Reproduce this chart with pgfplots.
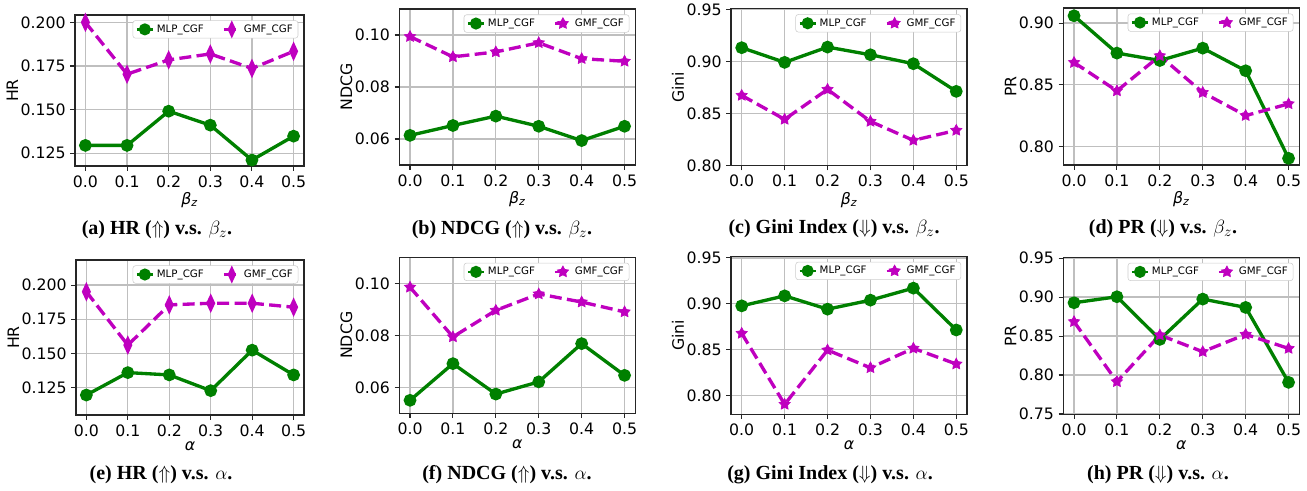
\documentclass[border=0pt]{standalone}
\usepackage{pgfplots}
\pgfplotsset{compat=1.18}
\usepackage{fontspec}
\setmainfont{DejaVu Sans}
\newfontfamily\capfont{Liberation Serif}
\definecolor{mgreen}{RGB}{0,128,0}
\definecolor{mmag}{RGB}{191,0,191}
\pgfkeys{/pgf/number format/assume math mode=true}
\pgfdeclareplotmark{fstar}{%
  \pgfpathmoveto{\pgfpointpolar{90}{\pgfplotmarksize}}%
  \pgfpathlineto{\pgfpointpolar{126}{0.52\pgfplotmarksize}}%
  \pgfpathlineto{\pgfpointpolar{162}{\pgfplotmarksize}}%
  \pgfpathlineto{\pgfpointpolar{198}{0.52\pgfplotmarksize}}%
  \pgfpathlineto{\pgfpointpolar{234}{\pgfplotmarksize}}%
  \pgfpathlineto{\pgfpointpolar{270}{0.52\pgfplotmarksize}}%
  \pgfpathlineto{\pgfpointpolar{306}{\pgfplotmarksize}}%
  \pgfpathlineto{\pgfpointpolar{342}{0.52\pgfplotmarksize}}%
  \pgfpathlineto{\pgfpointpolar{18}{\pgfplotmarksize}}%
  \pgfpathlineto{\pgfpointpolar{54}{0.52\pgfplotmarksize}}%
  \pgfpathclose\pgfusepathqfillstroke}
\pgfplotsset{
  base/.style={scale only axis, anchor=south west,
    xmin=-0.025, xmax=0.525, xtick={0,0.1,0.2,0.3,0.4,0.5},
    xticklabel style={/pgf/number format/.cd, fixed, fixed zerofill, precision=1},
    axis line style={black!85, line width=0.9pt},
    grid=major, major grid style={black!25, line width=0.9pt},
    tick align=outside, xtick pos=bottom, ytick pos=left,
    major tick length=3.5pt, tick style={black!85, line width=0.8pt},
    tick label style={font=\fontsize{11.8}{14}\selectfont},
    label style={font=\fontsize{11.8}{14}\selectfont},
    xlabel style={yshift=3pt},
    ylabel style={yshift=-5pt},
    legend style={at={(0.975,0.965)}, anchor=north east, legend columns=2,
      font=\fontsize{7.7}{9}\selectfont, draw=black!20, rounded corners=2pt,
      inner xsep=2pt, inner ysep=1pt,
      /tikz/every even column/.append style={column sep=12pt}},
    legend image code/.code={\draw[mark repeat=2,mark phase=2,line width=2pt] plot coordinates {(0pt,0pt)(6pt,0pt)(12pt,0pt)};},
  },
  mlp/.style={color=mgreen, line width=2.5pt, mark=*, mark size=3.5pt, mark options={solid}},
  gmfd/.style={color=mmag, line width=2.5pt, dash pattern=on 9pt off 4pt, mark=diamond*, mark size=4.4pt, mark options={solid, xscale=0.62}},
  gmfs/.style={color=mmag, line width=2.5pt, dash pattern=on 9pt off 4pt, mark=fstar, mark size=4.4pt, mark options={solid, line width=0.5pt}},
  p3/.style={yticklabel style={/pgf/number format/.cd, fixed, fixed zerofill, precision=3}},
  p2/.style={yticklabel style={/pgf/number format/.cd, fixed, fixed zerofill, precision=2}},
}
\newcommand\subcap[3]{\node[font=\capfont\bfseries\fontsize{15}{17}\selectfont] at (#1*0.75pt,-#2*0.75pt) {#3};}
\begin{document}
\begin{tikzpicture}
\useasboundingbox (0,0) rectangle (1307*0.75pt,-490*0.75pt);
% (a)
\begin{axis}[base, p3, at={(75*0.75pt,-166*0.75pt)}, width=229*0.75pt, height=151*0.75pt,
  ymin=0.1177, ymax=0.2042, ytick={0.125,0.150,0.175,0.200}, ylabel={HR}, xlabel={\itshape β\textsubscript{z}}]
\addplot[mlp] coordinates {(0,0.1295)(0.1,0.1295)(0.2,0.1491)(0.3,0.1411)(0.4,0.1211)(0.5,0.1348)};
\addplot[gmfd] coordinates {(0,0.2000)(0.1,0.1703)(0.2,0.1785)(0.3,0.1819)(0.4,0.1736)(0.5,0.1834)};
\legend{MLP\_CGF, GMF\_CGF}
\end{axis}
% (b)
\begin{axis}[base, p2, at={(399.3*0.75pt,-165*0.75pt)}, width=236*0.75pt, height=156*0.75pt,
  ymin=0.05, ymax=0.11, ytick={0.06,0.08,0.10}, ylabel={NDCG}, xlabel={\itshape β\textsubscript{z}}]
\addplot[mlp] coordinates {(0,0.0614)(0.1,0.0652)(0.2,0.0688)(0.3,0.0649)(0.4,0.0594)(0.5,0.0649)};
\addplot[gmfs] coordinates {(0,0.0994)(0.1,0.0916)(0.2,0.0935)(0.3,0.0970)(0.4,0.0909)(0.5,0.0899)};
\legend{MLP\_CGF, GMF\_CGF}
\end{axis}
% (c)
\begin{axis}[base, p2, at={(731*0.75pt,-165.7*0.75pt)}, width=236*0.75pt, height=157*0.75pt,
  ymin=0.80, ymax=0.951, ytick={0.80,0.85,0.90,0.95}, ylabel={Gini}, xlabel={\itshape β\textsubscript{z}}]
\addplot[mlp] coordinates {(0,0.9135)(0.1,0.8994)(0.2,0.9141)(0.3,0.9067)(0.4,0.8981)(0.5,0.8715)};
\addplot[gmfs] coordinates {(0,0.8676)(0.1,0.8446)(0.2,0.8734)(0.3,0.8426)(0.4,0.8244)(0.5,0.8340)};
\legend{MLP\_CGF, GMF\_CGF}
\end{axis}
% (d)
\begin{axis}[base, p2, at={(1063.3*0.75pt,-165*0.75pt)}, width=236*0.75pt, height=157*0.75pt,
  ymin=0.7851, ymax=0.9122, ytick={0.80,0.85,0.90}, ylabel={PR}, xlabel={\itshape β\textsubscript{z}}]
\addplot[mlp] coordinates {(0,0.9059)(0.1,0.8757)(0.2,0.8697)(0.3,0.8797)(0.4,0.8614)(0.5,0.7905)};
\addplot[gmfs] coordinates {(0,0.8681)(0.1,0.8451)(0.2,0.8735)(0.3,0.8438)(0.4,0.8251)(0.5,0.8346)};
\legend{MLP\_CGF, GMF\_CGF}
\end{axis}
% (e)
\begin{axis}[base, p3, at={(76*0.75pt,-415*0.75pt)}, width=228*0.75pt, height=155*0.75pt,
  ymin=0.105, ymax=0.2183, ytick={0.125,0.150,0.175,0.200}, ylabel={HR}, xlabel={\itshape α}]
\addplot[mlp] coordinates {(0,0.1196)(0.1,0.1360)(0.2,0.1343)(0.3,0.1228)(0.4,0.1524)(0.5,0.1343)};
\addplot[gmfd] coordinates {(0,0.1951)(0.1,0.1561)(0.2,0.1855)(0.3,0.1867)(0.4,0.1867)(0.5,0.1838)};
\legend{MLP\_CGF, GMF\_CGF}
\end{axis}
% (f)
\begin{axis}[base, p2, at={(399.3*0.75pt,-413.3*0.75pt)}, width=236*0.75pt, height=156*0.75pt,
  ymin=0.05, ymax=0.11, ytick={0.06,0.08,0.10}, ylabel={NDCG}, xlabel={\itshape α}]
\addplot[mlp] coordinates {(0,0.0550)(0.1,0.0691)(0.2,0.0574)(0.3,0.0621)(0.4,0.0768)(0.5,0.0646)};
\addplot[gmfs] coordinates {(0,0.0985)(0.1,0.0794)(0.2,0.0896)(0.3,0.0959)(0.4,0.0928)(0.5,0.0890)};
\legend{MLP\_CGF, GMF\_CGF}
\end{axis}
% (g)
\begin{axis}[base, p2, at={(731*0.75pt,-414.3*0.75pt)}, width=236*0.75pt, height=158*0.75pt,
  ymin=0.7796, ymax=0.9518, ytick={0.80,0.85,0.90,0.95}, ylabel={Gini}, xlabel={\itshape α}]
\addplot[mlp] coordinates {(0,0.8978)(0.1,0.9087)(0.2,0.8942)(0.3,0.9040)(0.4,0.9171)(0.5,0.8715)};
\addplot[gmfs] coordinates {(0,0.8678)(0.1,0.7905)(0.2,0.8496)(0.3,0.8303)(0.4,0.8515)(0.5,0.8344)};
\legend{MLP\_CGF, GMF\_CGF}
\end{axis}
% (h)
\begin{axis}[base, p2, at={(1063.3*0.75pt,-414.3*0.75pt)}, width=236*0.75pt, height=157*0.75pt,
  ymin=0.7496, ymax=0.951, ytick={0.75,0.80,0.85,0.90,0.95}, ylabel={PR}, xlabel={\itshape α}]
\addplot[mlp] coordinates {(0,0.8927)(0.1,0.9004)(0.2,0.8457)(0.3,0.8974)(0.4,0.8867)(0.5,0.7906)};
\addplot[gmfs] coordinates {(0,0.8684)(0.1,0.7914)(0.2,0.8513)(0.3,0.8299)(0.4,0.8521)(0.5,0.8341)};
\legend{MLP\_CGF, GMF\_CGF}
\end{axis}
\subcap{157}{230}{(a) HR ($\Uparrow$) v.s. $\beta_z$.}
\subcap{502}{230}{(b) NDCG ($\Uparrow$) v.s. $\beta_z$.}
\subcap{834}{229}{(c) Gini Index ($\Downarrow$) v.s. $\beta_z$.}
\subcap{1163}{229}{(d) PR ($\Downarrow$) v.s. $\beta_z$.}
\subcap{161}{475}{(e) HR ($\Uparrow$) v.s. $\alpha$.}
\subcap{507}{475}{(f) NDCG ($\Uparrow$) v.s. $\alpha$.}
\subcap{830}{475}{(g) Gini Index ($\Downarrow$) v.s. $\alpha$.}
\subcap{1158}{475}{(h) PR ($\Downarrow$) v.s. $\alpha$.}
\end{tikzpicture}
\end{document}
